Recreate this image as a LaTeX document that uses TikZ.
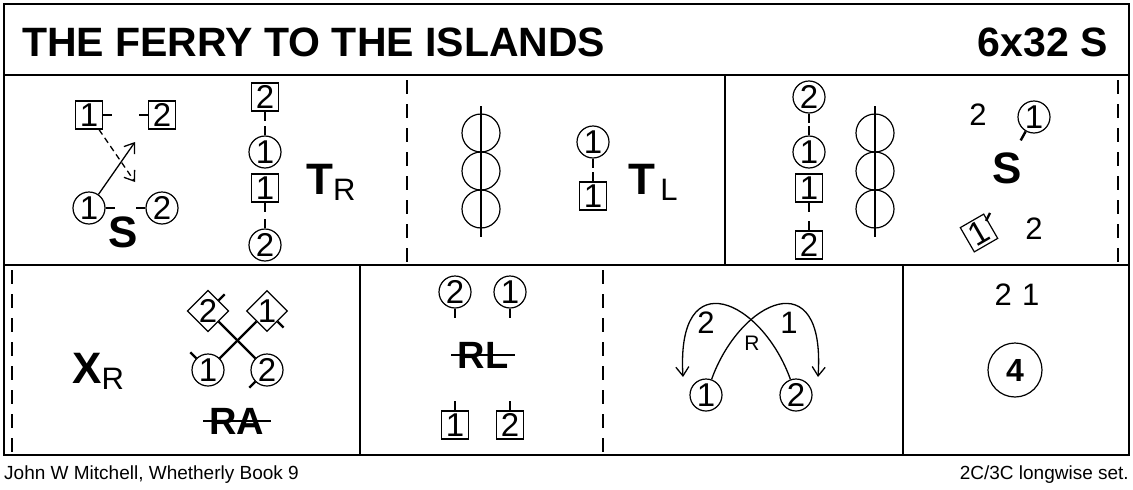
\documentclass[tikz,border=0pt]{standalone}
\usepackage{fontspec}
\setmainfont{Liberation Sans}
\usetikzlibrary{arrows,arrows.meta,positioning,shapes.geometric}
\newcommand{\digfont}{\fontsize{31}{31}\selectfont}
\newcommand{\infont}{\fontsize{33}{33}\selectfont}
\tikzstyle{man}=[circle,draw=black,line width=1.2,inner sep=0pt,minimum size=32,font=\infont]
\tikzstyle{woman}=[rectangle,draw=black,line width=1.2,inner sep=0pt,minimum width=27,minimum height=28,font=\infont]
\tikzstyle{lady}=[diamond,draw=black,line width=1.2,inner sep=0pt,minimum size=38,font=\infont]
\tikzstyle{ring}=[circle,draw=black,line width=1.2,minimum size=38,inner sep=0pt]
\tikzstyle{tick}=[-,line width=2.4]
\tikzstyle{frame}=[-,line width=1.2]
\tikzstyle{dashedframe}=[-,line width=1.6,dash pattern=on 14 off 10]
\tikzstyle{movearrow}=[-{Straight Barb[length=9,width=13]},line width=1.3]
\tikzstyle{fig}=[inner sep=0pt,font=\fontsize{44}{44}\selectfont\bfseries]
\tikzstyle{num}=[inner sep=0pt,font=\digfont]
\tikzstyle{none}=[inner sep=0pt]
\newcommand{\hand}[1]{\raisebox{-6pt}{\digfont\mdseries #1}}
\begin{document}
\begin{tikzpicture}[x=1pt,y=-1pt]
	\useasboundingbox (0,0) rectangle (1133,490);
	% frames
	\draw [style=frame,line width=2.4] (4,4) rectangle (1129,455);
	\draw [style=frame,line width=2.4] (4,75) -- (1129,75);
	\draw [style=frame,line width=2.4] (4,265) -- (1129,265);
	\draw [style=dashedframe] (407,80) -- (407,265);
	\draw [style=frame] (725,75) -- (725,265);
	\draw [style=dashedframe] (1118,80) -- (1118,265);
	\draw [style=dashedframe] (12,270) -- (12,455);
	\draw [style=frame] (360,265) -- (360,455);
	\draw [style=dashedframe] (603,270) -- (603,455);
	\draw [style=frame] (903,265) -- (903,455);
	% titles
	\node [style=none,anchor=base west,font=\fontsize{41}{41}\selectfont\bfseries] (title) at (22,56) {THE FERRY TO THE ISLANDS};
	\node [style=none,anchor=base east,font=\fontsize{41}{41}\selectfont\bfseries] (form) at (1108,56) {6x32 S};
	\node [style=none,anchor=base west,font=\fontsize{19}{19}\selectfont] (source) at (4,479) {John W Mitchell, Whetherly Book 9};
	\node [style=none,anchor=base east,font=\fontsize{19}{19}\selectfont] (set) at (1129,479) {2C/3C longwise set.};
	% bar 1
	\node [style=woman] (w1) at (89,115) {1};
	\node [style=woman] (w2) at (162,115) {2};
	\node [style=man] (m1) at (89,208) {1};
	\node [style=man] (m2) at (162,208) {2};
	\coordinate (m1to) at (135,142);
	\coordinate (w1to) at (135,182);
	\draw [style=tick] (w1.east) -- ++(9,0);
	\draw [style=tick] (w2.west) -- ++(-9,0);
	\draw [style=tick] (m1.east) -- ++(9,0);
	\draw [style=tick] (m2.west) -- ++(-9,0);
	\draw [style=movearrow] (m1) -- (m1to);
	\draw [style=movearrow,dash pattern=on 6 off 4] (w1) -- (w1to);
	\node [style=fig] (S1) at (123,232) {S};
	\node [style=woman] (a2) at (265,97) {2};
	\node [style=man] (a1) at (265,152) {1};
	\node [style=woman] (b1) at (265,188) {1};
	\node [style=man] (b2) at (265,245) {2};
	\draw [style=tick] (a2.south) -- ++(0,9);
	\draw [style=tick] (a1.north) -- ++(0,-9);
	\draw [style=tick] (b1.south) -- ++(0,9);
	\draw [style=tick] (b2.north) -- ++(0,-9);
	\node [style=fig,anchor=base west] (TR) at (306,194) {T\hand{R}};
	% bar 2
	\node [style=ring] (r1) at (481,133) {};
	\node [style=ring] (r2) at (481,171) {};
	\node [style=ring] (r3) at (481,209) {};
	\draw [style=frame] (481,106) -- (481,237);
	\node [style=man] (c1) at (593,142) {1};
	\node [style=woman] (d1) at (593,196) {1};
	\draw [style=tick] (c1.south) -- ++(0,9);
	\draw [style=tick] (d1.north) -- ++(0,-9);
	\node [style=fig,anchor=base west] (TL) at (628,194) {T\hand{\,L}};
	% bar 3
	\node [style=man] (e2) at (809,97) {2};
	\node [style=man] (e1) at (809,152) {1};
	\node [style=woman] (f1) at (809,188) {1};
	\node [style=woman] (f2) at (809,245) {2};
	\draw [style=tick] (e2.south) -- ++(0,9);
	\draw [style=tick] (e1.north) -- ++(0,-9);
	\draw [style=tick] (f1.south) -- ++(0,9);
	\draw [style=tick] (f2.north) -- ++(0,-9);
	\node [style=ring] (s1) at (875,133) {};
	\node [style=ring] (s2) at (875,171) {};
	\node [style=ring] (s3) at (875,209) {};
	\draw [style=frame] (875,106) -- (875,237);
	\node [style=num] (g2) at (978,115) {2};
	\node [style=man] (g1) at (1034,117) {1};
	\draw [style=tick] (g1.240) -- ++(-5,9);
	\node [style=fig] (S2) at (1007,168) {S};
	\node [style=woman,rotate=30] (h1) at (979,233) {1};
	\draw [style=tick] (h1.center) ++(7,-12) -- ++(4,-8);
	\node [style=num] (h2) at (1034,229) {2};
	% bar 4
	\node [style=fig,anchor=base west] (XR) at (72,383) {X\hand{R}};
	\node [style=lady] (p2) at (208,311) {2};
	\node [style=lady] (p1) at (267,311) {1};
	\node [style=man] (q1) at (208,370) {1};
	\node [style=man] (q2) at (267,370) {2};
	\draw [style=frame,line width=2.4] (p2) -- (q2);
	\draw [style=frame,line width=2.4] (p1) -- (q1);
	\draw [style=tick] (p2.north east) -- ++(6,-6);
	\draw [style=tick] (p1.south east) -- ++(6,6);
	\draw [style=tick] (q1.135) -- ++(-6,-6);
	\draw [style=tick] (q2.225) -- ++(-6,6);
	\node [style=fig,font=\fontsize{38}{38}\selectfont\bfseries] (RA) at (237,421) {RA};
	\draw [style=frame,line width=2.2] ([xshift=-6]RA.west) -- ([xshift=6]RA.east);
	% bar 5
	\node [style=man] (u2) at (455,292) {2};
	\node [style=man] (u1) at (510,292) {1};
	\draw [style=tick] (u2.south) -- ++(0,9);
	\draw [style=tick] (u1.south) -- ++(0,9);
	\node [style=fig,font=\fontsize{38}{38}\selectfont\bfseries] (RL) at (483,355) {RL};
	\draw [style=frame,line width=2.2] ([xshift=-6]RL.west) -- ([xshift=6]RL.east);
	\node [style=woman] (v1) at (455,425) {1};
	\node [style=woman] (v2) at (510,425) {2};
	\draw [style=tick] (v1.north) -- ++(0,-9);
	\draw [style=tick] (v2.north) -- ++(0,-9);
	% bar 6
	\node [style=man] (k1) at (706,395) {1};
	\node [style=man] (k2) at (796,395) {2};
	\coordinate (k1to) at (818,377);
	\coordinate (k2to) at (683,377);
	\draw [style=movearrow] (k1) .. controls (740,300) and (826,260) .. (k1to);
	\draw [style=movearrow] (k2) .. controls (762,300) and (676,260) .. (k2to);
	\node [style=num] (lab2) at (706,323) {2};
	\node [style=num] (lab1) at (789,323) {1};
	\node [style=none,font=\fontsize{21}{21}\selectfont] (labR) at (752,343) {R};
	% bar 7
	\node [style=num] (order) at (1017,295) {2\,\,1};
	\node [style=man,minimum size=54,font=\fontsize{32}{32}\selectfont\bfseries] (four) at (1015,370) {4};
\end{tikzpicture}
\end{document}
